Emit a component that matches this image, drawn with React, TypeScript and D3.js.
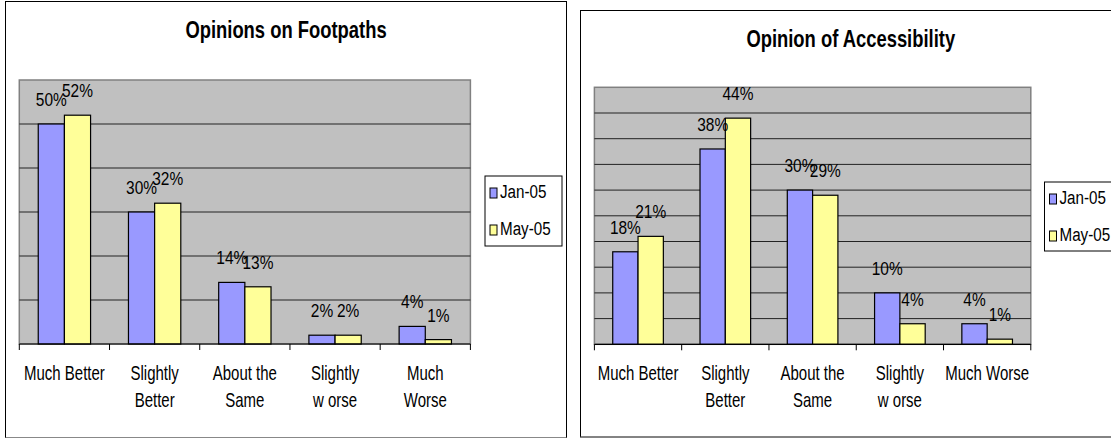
import React from "react";
import * as d3 from "d3";

// ---- data ----
const seriesNames = ["Jan-05", "May-05"];
const seriesColors = ["#9999FF", "#FFFF99"];

const footpathTitle = "Opinions on Footpaths";
const footpathCategories = [
  ["Much Better"],
  ["Slightly", "Better"],
  ["About the", "Same"],
  ["Slightly", "w orse"],
  ["Much", "Worse"],
];
const footpathJan = [50, 30, 14, 2, 4];
const footpathMay = [52, 32, 13, 2, 1];
const footpathTicks = [10, 20, 30, 40, 50, 60];

const accessTitle = "Opinion of Accessibility";
const accessCategories = [
  ["Much Better"],
  ["Slightly", "Better"],
  ["About the", "Same"],
  ["Slightly", "w orse"],
  ["Much Worse"],
];
const accessJan = [18, 38, 30, 10, 4];
const accessMay = [21, 44, 29, 4, 1];
const accessTicks = [5, 10, 15, 20, 25, 30, 35, 40, 45, 50];

const FONT = "'Liberation Sans', Arial, sans-serif";

type TProps = {
  x: number;
  y: number;
  size: number;
  sx?: number;
  anchor?: string;
  bold?: boolean;
  children: React.ReactNode;
};
function T({ x, y, size, sx = 0.78, anchor = "middle", bold = false, children }: TProps) {
  return (
    <text
      transform={`translate(${x},${y}) scale(${sx},1)`}
      textAnchor={anchor}
      fontFamily={FONT}
      fontSize={size}
      fontWeight={bold ? "bold" : "normal"}
      fill="#000"
    >
      {children}
    </text>
  );
}

type ChartProps = {
  box: [number, number, number, number];
  title: string;
  titleY: number;
  plot: [number, number, number, number]; // x0, x1, yTop, yBottom
  yMax: number;
  ticks: number[];
  categories: string[][];
  jan: number[];
  may: number[];
  legend: [number, number, number, number];
};

function Chart(p: ChartProps) {
  const [bx0, by0, bx1, by1] = p.box;
  const [px0, px1, pyT, pyB] = p.plot;
  const idx = p.categories.map((_, i) => String(i));
  const x = d3.scaleBand<string>().domain(idx).range([px0, px1]).paddingInner(0.42).paddingOuter(0.21);
  const xs = d3.scaleBand<string>().domain(seriesNames).range([0, x.bandwidth()]);
  const y = d3.scaleLinear().domain([0, p.yMax]).range([pyB, pyT]);
  const step = x.step();
  const values = [p.jan, p.may];
  const [lx0, ly0, lx1, ly1] = p.legend;
  return (
    <g>
      <rect x={bx0} y={by0} width={bx1 - bx0} height={by1 - by0} fill="#fff" stroke="#000" strokeWidth={1} />
      <line x1={bx0} x2={bx1} y1={by1} y2={by1} stroke="#888" strokeWidth={1.2} />
      <T x={(bx0 + bx1) / 2} y={p.titleY} size={23} sx={0.8} bold>
        {p.title}
      </T>
      <rect x={px0} y={pyT} width={px1 - px0} height={pyB - pyT} fill="#C0C0C0" stroke="#808080" strokeWidth={1.5} />
      {p.ticks.slice(0, -1).map((t) => (
        <line key={t} x1={px0} x2={px1} y1={y(t)} y2={y(t)} stroke="#222" strokeWidth={1} />
      ))}
      {values.map((vals, s) =>
        vals.map((v, i) => (
          <rect
            key={`${s}-${i}`}
            x={(x(String(i)) as number) + (xs(seriesNames[s]) as number)}
            y={y(v)}
            width={xs.bandwidth()}
            height={pyB - y(v)}
            fill={seriesColors[s]}
            stroke="#000"
            strokeWidth={1.2}
          />
        ))
      )}
      <line x1={px0} x2={px1} y1={pyB} y2={pyB} stroke="#000" strokeWidth={1.2} />
      {d3.range(p.categories.length + 1).map((i) => (
        <line key={i} x1={px0 + i * step} x2={px0 + i * step} y1={pyB} y2={pyB + 6} stroke="#000" strokeWidth={1} />
      ))}
      {values.map((vals, s) =>
        vals.map((v, i) => (
          <T
            key={`l${s}-${i}`}
            x={(x(String(i)) as number) + (xs(seriesNames[s]) as number) + xs.bandwidth() / 2}
            y={y(v) - 18}
            size={18}
            sx={0.86}
          >
            {`${v}%`}
          </T>
        ))
      )}
      {p.categories.map((lines, i) =>
        lines.map((ln, j) => (
          <T key={`c${i}-${j}`} x={(x(String(i)) as number) + x.bandwidth() / 2} y={380 + j * 27} size={20} sx={0.75}>
            {ln}
          </T>
        ))
      )}
      <rect x={lx0} y={ly0} width={lx1 - lx0} height={ly1 - ly0} fill="#fff" stroke="#000" strokeWidth={1} />
      {seriesNames.map((n, s) => (
        <g key={n}>
          <rect x={lx0 + 5} y={ly0 + 12 + s * 37} width={7} height={10} fill={seriesColors[s]} stroke="#000" strokeWidth={1} />
          <T x={lx0 + 15} y={ly0 + 22 + s * 37} size={19} sx={0.8} anchor="start">
            {n}
          </T>
        </g>
      ))}
    </g>
  );
}

export default function App() {
  return (
    <svg width={1111} height={439} style={{ position: "absolute", left: 0, top: 0 }}>
      <rect x={0} y={0} width={1111} height={439} fill="#fff" />
      <Chart
        box={[5.5, 1.5, 566.5, 437.5]}
        title={footpathTitle}
        titleY={37.5}
        plot={[19.3, 470.4, 80, 344]}
        yMax={60}
        ticks={footpathTicks}
        categories={footpathCategories}
        jan={footpathJan}
        may={footpathMay}
        legend={[485, 176, 562, 246]}
      />
      <Chart
        box={[580.5, 10.5, 1121, 437]}
        title={accessTitle}
        titleY={47}
        plot={[594.4, 1030.8, 87.3, 344.3]}
        yMax={50}
        ticks={accessTicks}
        categories={accessCategories}
        jan={accessJan}
        may={accessMay}
        legend={[1044.5, 182, 1130, 251]}
      />
    </svg>
  );
}
